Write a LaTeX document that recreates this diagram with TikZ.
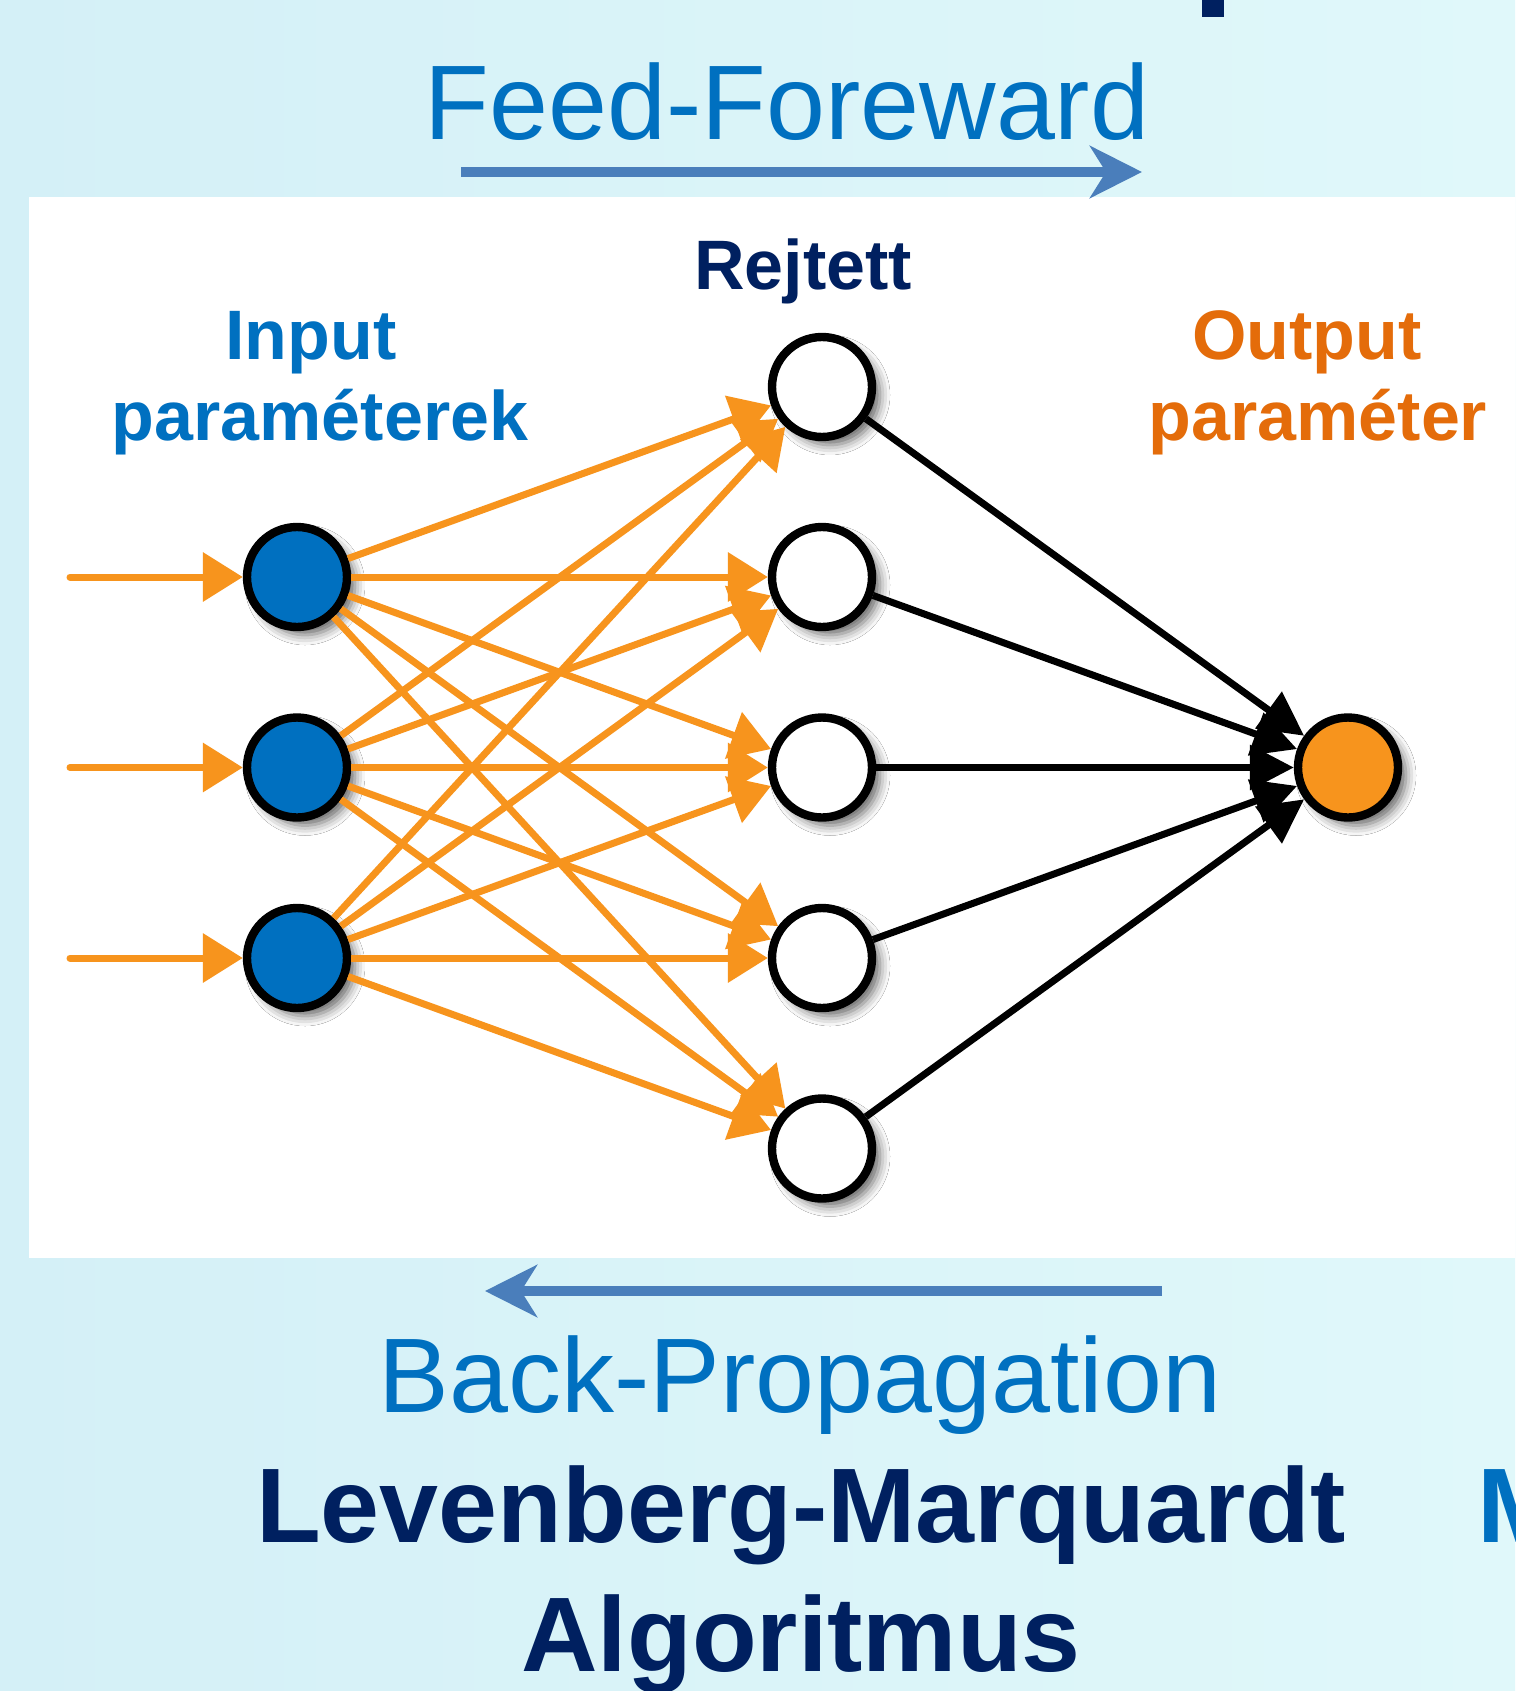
\documentclass[tikz,border=0pt]{standalone}
\usepackage{fontspec}
\setmainfont{Liberation Sans}
\usetikzlibrary{arrows.meta,shadows.blur}
\definecolor{kek}{RGB}{0,112,192}
\definecolor{sotetkek}{RGB}{0,32,96}
\definecolor{narancs}{RGB}{247,148,29}
\definecolor{sotetnarancs}{RGB}{228,108,10}
\definecolor{nyil}{RGB}{74,126,187}
\definecolor{hatter}{RGB}{212,240,247}
\definecolor{hatter2}{RGB}{224,248,250}
\tikzstyle{neuron} = [circle, draw=black, line width=4.2pt, minimum size=50pt, inner sep=0pt, blur shadow={shadow xshift=4pt, shadow yshift=-4pt, shadow blur radius=5pt, shadow opacity=60}]
\tikzstyle{bemenet} = [neuron, fill=kek]
\tikzstyle{rejtettneuron} = [neuron, fill=white]
\tikzstyle{kimenet} = [neuron, fill=narancs]
\tikzstyle{suly} = [draw=narancs, line width=3.5pt, -{Triangle[length=20pt,width=24pt]}]
\tikzstyle{kisuly} = [draw=black, line width=3.5pt, -{Triangle[length=22pt,width=22pt]}]
\tikzstyle{irany} = [draw=nyil, line width=5pt, -{Stealth[length=26pt,width=26pt,inset=8pt]}]
\tikzstyle{cimke} = [font=\bfseries\fontsize{35}{40}\selectfont, anchor=base, inner sep=0pt]
\tikzstyle{nagy} = [font=\fontsize{53}{60}\selectfont, anchor=base, inner sep=0pt]

\begin{document}
\begin{tikzpicture}[x=0.5pt, y=-0.5pt]
  % hatter es feher panel
  \useasboundingbox (0,0) rectangle (1515,1691);
  \shade[left color=hatter, right color=hatter2] (0,0) rectangle (1515,1691);
  \fill[white] (29,197) rectangle (1515,1258);
  \fill[sotetkek] (1202,0) rectangle (1224,17);

  % feliratok
  \node (ff) [nagy, text=kek] at (787,140) {Feed-Foreward};
  \node (input) [cimke, text=kek] at (311,359) {Input};
  \node (inparam) [cimke, text=kek] at (320,440) {paraméterek};
  \node (rejtett) [cimke, text=sotetkek] at (803,289) {Rejtett};
  \node (output) [cimke, text=sotetnarancs] at (1307,359) {Output};
  \node (outparam) [cimke, text=sotetnarancs] at (1318,440) {paraméter};
  \node (bp) [nagy, text=kek] at (800,1412) {Back-Propagation};
  \node (lm) [nagy, text=sotetkek, font=\bfseries\fontsize{53}{60}\selectfont] at (801,1542) {Levenberg-Marquardt};
  \node (alg) [nagy, text=sotetkek, font=\bfseries\fontsize{53}{60}\selectfont] at (801,1671) {Algoritmus};
  \node (m) [nagy, text=kek, font=\bfseries\fontsize{53}{60}\selectfont, anchor=base west] at (1477,1542) {M};

  % iranyt jelzo nyilak
  \coordinate (ff1) at (461,172);
  \coordinate (ff2) at (1142,172);
  \coordinate (bp1) at (1162,1291);
  \coordinate (bp2) at (485,1291);
  \draw[irany] (ff1) -- (ff2);
  \draw[irany] (bp1) -- (bp2);

  % neuronok
  \foreach \i/\y in {1/577,2/767.5,3/958}
    \node (in\i) [bemenet] at (297,\y) {};
  \foreach \j/\y in {1/387,2/577,3/767.5,4/958,5/1148.5}
    \node (rej\j) [rejtettneuron] at (822,\y) {};
  \node (out) [kimenet] at (1348,767.5) {};

  % kapcsolatok
  \foreach \i/\y in {1/577,2/767.5,3/958} {
    \coordinate (be\i) at (70,\y);
    \draw[suly, line cap=round] (be\i) -- (in\i);
  }
  \foreach \i in {1,2,3}
    \foreach \j in {1,...,5}
      \draw[suly] (in\i) -- (rej\j);
  \foreach \j in {1,...,5}
    \draw[kisuly] (rej\j) -- (out);
\end{tikzpicture}
\end{document}
